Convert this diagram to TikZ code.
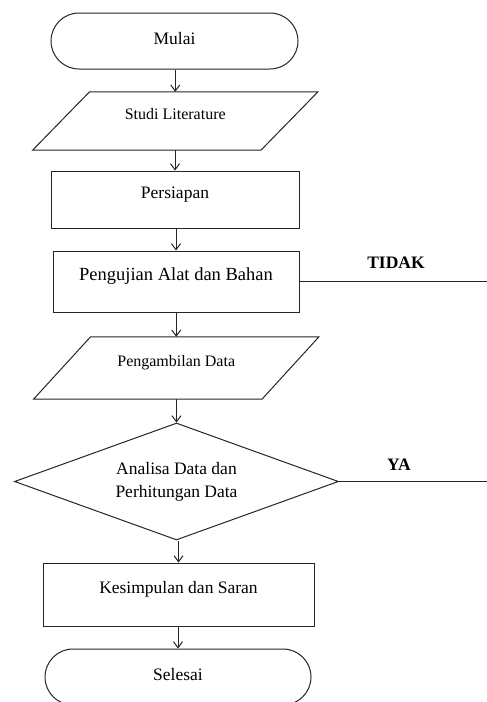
\documentclass[tikz,border=0pt]{standalone}
\usepackage{fontspec}
\setmainfont{Liberation Serif}
\usetikzlibrary{shapes.misc,shapes.geometric,arrows.meta,calc}
\begin{document}
\begin{tikzpicture}[x=1pt,y=1pt,
  line/.style={draw=black!85, line width=1pt},
  arr/.style={line, -{Straight Barb[length=6pt,width=9pt,line width=1pt]}},
  term/.style={line, rounded rectangle, inner sep=0pt, font=\fontsize{17.5}{21}\selectfont, text height=12pt, text depth=6pt},
  rectbox/.style={line, rectangle, inner sep=0pt, font=\fontsize{17.5}{21}\selectfont, text height=8pt, text depth=10pt},
  parabox/.style={rectangle, inner sep=0pt, minimum width=228pt, font=\fontsize{16}{19}\selectfont, text height=7pt, text depth=11pt},
  decision/.style={line, diamond, aspect=2.77, inner sep=0pt, minimum width=324pt, minimum height=117pt, font=\fontsize{17.5}{23}\selectfont, align=center},
  lbl/.style={font=\bfseries\fontsize{17.5}{21}\selectfont}
]
\useasboundingbox (0,0) rectangle (487,-702);
\clip (0,0) rectangle (487,-702);
\fill[white] (0,0) rectangle (487,-702);

\node[term, minimum width=247pt, minimum height=56pt] (mulai) at (174.5,-41) {Mulai};
\node[parabox, minimum height=58pt] (studi) at (175.25,-121) {Studi Literature};
\node[rectbox, minimum width=248pt, minimum height=57pt] (siap) at (175,-199.5) {Persiapan};
\node[rectbox, minimum width=246pt, minimum height=61pt, font=\fontsize{18.5}{22}\selectfont] (uji) at (176,-281.5) {Pengujian Alat dan Bahan};
\node[parabox, minimum height=62pt] (ambil) at (176.25,-368) {Pengambilan Data};
\node[decision] (analisa) at (176.5,-481.5) {Analisa Data dan\\Perhitungan Data};
\node[rectbox, minimum width=271pt, minimum height=63pt] (simpul) at (178.5,-594.5) {Kesimpulan dan Saran};
\node[term, minimum width=266pt, minimum height=56pt] (selesai) at (178,-677) {Selesai};

% parallelograms
\draw[line] ([xshift=28.5pt]studi.north west) -- ([xshift=28.5pt]studi.north east)
  -- ([xshift=-28.5pt]studi.south east) -- ([xshift=-28.5pt]studi.south west) -- cycle;
\draw[line] ([xshift=28.5pt]ambil.north west) -- ([xshift=28.5pt]ambil.north east)
  -- ([xshift=-28.5pt]ambil.south east) -- ([xshift=-28.5pt]ambil.south west) -- cycle;

% arrows
\draw[arr] (studi.north |- mulai.south) -- (studi.north);
\draw[arr] (siap.north |- studi.south) -- (siap.north);
\draw[arr] (uji.north |- siap.south) -- (uji.north);
\draw[arr] (ambil.north |- uji.south) -- (ambil.north);
\draw[arr] (analisa.north |- ambil.south) -- (analisa.north);
\draw[arr] (simpul.north |- analisa.south) -- (simpul.north);
\draw[arr] (selesai.north |- simpul.south) -- (selesai.north);

% side lines
\coordinate (tidakend) at (487,-281);
\coordinate (yaend) at (487,-482);
\draw[line] (uji.east) -- (uji.east -| tidakend);
\draw[line] (analisa.east) -- (analisa.east -| yaend);
\node[lbl] (tidak) at (396,-263) {TIDAK};
\node[lbl] (ya) at (399,-465) {YA};
\end{tikzpicture}
\end{document}
